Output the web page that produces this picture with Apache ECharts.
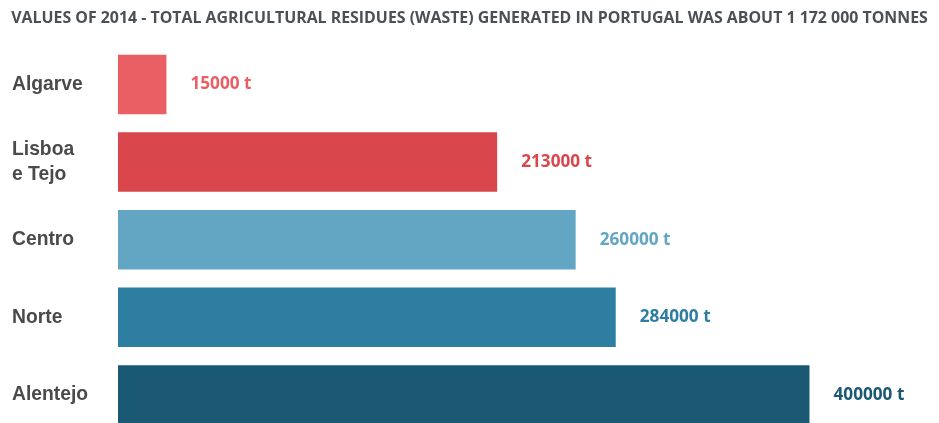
<!DOCTYPE html>
<html>
<head>
<meta charset="utf-8">
<script src="https://cdn.jsdelivr.net/npm/echarts@6/dist/echarts.min.js"></script>
<style>html,body{margin:0;padding:0;background:#fff;}#c{width:939px;height:423px;}</style>
</head>
<body>
<div id="c"></div>
<script>
const titleText = 'VALUES OF 2014 - TOTAL AGRICULTURAL RESIDUES (WASTE) GENERATED IN PORTUGAL WAS ABOUT 1 172 000 TONNES';
const categories = ['Algarve', 'Lisboa\ne Tejo', 'Centro', 'Norte', 'Alentejo'];
const values = [15000, 213000, 260000, 284000, 400000];
const unit = ' t';
const colors = ['#E95F64', '#D9474D', '#63A6C4', '#2E7EA2', '#1B5874'];

const chart = echarts.init(document.getElementById('c'), null, {renderer: 'canvas'});
chart.setOption({
  backgroundColor: '#ffffff',
  animation: false,
  title: {
    text: titleText,
    left: 'center',
    top: 5,
    textStyle: {fontFamily: 'Open Sans', fontWeight: 'bold', fontSize: 15.9, color: '#4B5057'}
  },
  grid: {left: 118, right: 46, top: 45.7, height: 388, containLabel: false, outerBoundsMode: 'none'},
  xAxis: {
    type: 'value',
    min: -14000,
    max: 450000,
    startValue: -14000,
    show: false
  },
  yAxis: {
    type: 'category',
    data: categories,
    inverse: true,
    axisLine: {show: false},
    axisTick: {show: false},
    splitLine: {show: false},
    axisLabel: {
      align: 'left',
      margin: 106,
      fontFamily: 'Liberation Sans',
      fontWeight: 'bold',
      fontSize: 19.3,
      lineHeight: 25,
      color: '#4A4A4A'
    }
  },
  series: [{
    type: 'bar',
    barWidth: 59.5,
    data: values.map((v, i) => ({value: v, itemStyle: {color: colors[i]}, label: {color: colors[i]}})),
    label: {
      show: true,
      position: 'right',
      distance: 24,
      fontFamily: 'Open Sans',
      fontWeight: 'bold',
      fontSize: 17.2,
      formatter: p => p.value + unit
    }
  }]
});
</script>
</body>
</html>
